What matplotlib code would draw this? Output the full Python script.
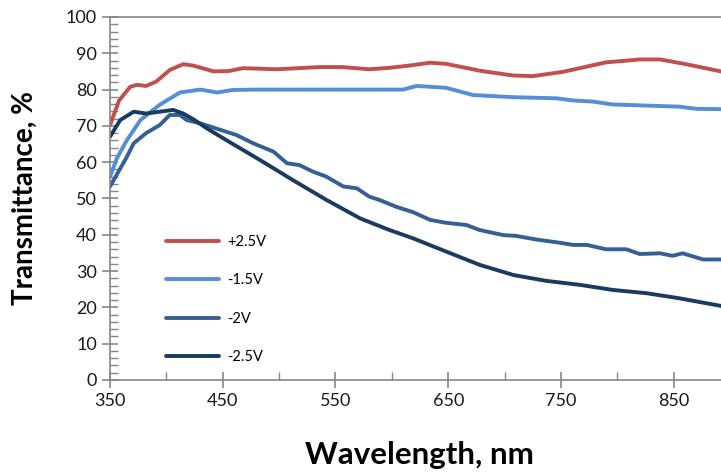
import matplotlib
matplotlib.use("Agg")
import matplotlib.pyplot as plt
from matplotlib.ticker import FixedLocator

# wavelength (nm) / transmittance (%)
wl_p25 = [350, 358, 368, 374, 382, 391, 403, 415, 424, 442, 455, 468, 498, 536, 556,
          580, 598, 615, 634, 648, 678, 707, 725, 752, 790, 820, 838, 861, 892]
t_p25 = [70.2, 77.0, 80.8, 81.3, 81.0, 82.2, 85.4, 87.0, 86.6, 85.0, 85.1, 85.9, 85.6,
         86.2, 86.2, 85.6, 86.0, 86.6, 87.4, 87.1, 85.2, 83.9, 83.7, 84.9, 87.5, 88.3,
         88.3, 87.0, 85.0]

wl_m15 = [350, 356, 365, 377, 394, 412, 430, 445, 459, 480, 530, 580, 610, 622, 648,
          672, 708, 746, 761, 778, 796, 855, 870, 892]
t_m15 = [56.0, 61.0, 66.1, 71.6, 75.8, 79.2, 80.0, 79.2, 79.9, 80.0, 80.0, 80.0, 80.0,
         81.0, 80.5, 78.5, 77.9, 77.6, 77.0, 76.7, 75.9, 75.3, 74.7, 74.6]

wl_m2 = [350, 365, 371, 382, 394, 403, 412, 418, 430, 453, 462, 477, 495, 507, 518, 530,
         542, 557, 569, 580, 589, 604, 619, 634, 648, 666, 678, 699, 710, 728, 749, 761,
         773, 790, 808, 820, 838, 849, 858, 876, 892]
t_m2 = [53.3, 61.5, 65.2, 68.0, 70.2, 73.0, 73.0, 71.6, 70.7, 68.4, 67.5, 65.2, 62.9,
        59.7, 59.2, 57.4, 56.0, 53.3, 52.8, 50.5, 49.6, 47.7, 46.2, 44.1, 43.3, 42.7,
        41.3, 39.9, 39.7, 38.7, 37.8, 37.2, 37.2, 36.0, 36.0, 34.7, 34.9, 34.2, 34.9,
        33.2, 33.2]

wl_m25 = [350, 359, 371, 382, 394, 406, 415, 424, 436, 453, 483, 512, 542, 572, 598,
          619, 648, 678, 708, 737, 767, 796, 826, 855, 892]
t_m25 = [67.0, 71.6, 73.9, 73.4, 73.9, 74.4, 73.4, 71.8, 69.3, 66.1, 60.6, 55.1, 49.6,
         44.5, 41.3, 39.0, 35.4, 31.7, 28.9, 27.3, 26.2, 24.8, 23.9, 22.5, 20.4]

labels = ["+2.5V", "-1.5V", "-2V", "-2.5V"]
colors = ["#C0504D", "#558ED5", "#376092", "#1B3A60"]

x_major = [350, 450, 550, 650, 750, 850]
x_minor = [400, 500, 600, 700, 800]

fig = plt.figure(figsize=(7.21, 4.72), dpi=100)
ax = fig.add_axes([0.1526, 0.195, 0.8474, 0.769])

series = [(wl_p25, t_p25), (wl_m15, t_m15), (wl_m2, t_m2), (wl_m25, t_m25)]
for (x, y), lab, c in zip(series, labels, colors):
    ax.plot(x, y, color=c, lw=2.8, label=lab, solid_joinstyle="round",
            solid_capstyle="round")

ax.set_xlim(350, 892)
ax.set_ylim(0, 100)
ax.xaxis.set_major_locator(FixedLocator(x_major))
ax.xaxis.set_minor_locator(FixedLocator(x_minor))
ax.yaxis.set_major_locator(FixedLocator(range(0, 101, 10)))
ax.yaxis.set_minor_locator(FixedLocator(range(0, 101, 2)))

gray = "#868686"
for side in ["left", "bottom", "top"]:
    ax.spines[side].set_color(gray)
    ax.spines[side].set_linewidth(1.2)
ax.spines["right"].set_visible(False)

ax.tick_params(which="major", direction="inout", length=11, width=1.2, color=gray,
               labelsize=13, pad=4)
ax.tick_params(which="minor", direction="in", length=6, width=1.0, color=gray)
for t in ax.get_xticklabels() + ax.get_yticklabels():
    t.set_fontfamily("Lato")
    t.set_color("#1a1a1a")

ax.set_xlabel("Wavelength, nm", fontfamily="Lato", fontweight="bold",
              fontsize=22.5, va="center")
ax.set_ylabel("Transmittance, %", fontfamily="Lato", fontweight="bold",
              fontsize=20, va="center")
ax.xaxis.set_label_coords(0.506, -0.207)
ax.yaxis.set_label_coords(-0.139, 0.5)

ax.legend(loc="upper left", bbox_to_anchor=(0.08, 0.42), frameon=False,
          prop={"family": "Lato", "size": 10.5}, handlelength=3.6,
          handletextpad=0.6, labelspacing=1.68, borderpad=0)

fig.savefig("out.png", dpi=100)
